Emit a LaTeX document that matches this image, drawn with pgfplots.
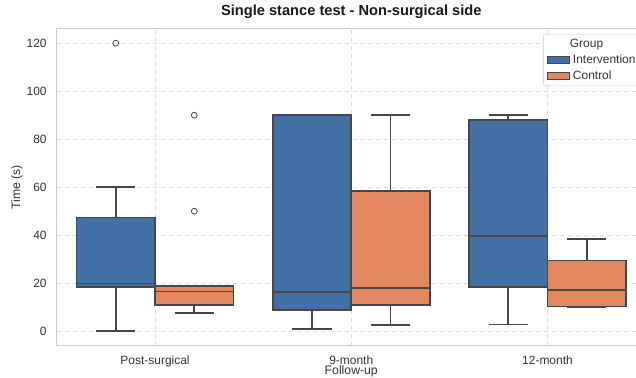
\documentclass[border=0pt]{standalone}
\usepackage{pgfplots}
\pgfplotsset{compat=1.18}
\usepgfplotslibrary{statistics}
\usepackage{fontspec}
\setmainfont{Liberation Sans}
\definecolor{iblue}{HTML}{4471A5}
\definecolor{corange}{HTML}{E2875F}
\definecolor{edge}{HTML}{474747}
\definecolor{spine}{HTML}{CCCCCC}
\definecolor{gridc}{HTML}{DDDDDD}
\definecolor{txt}{HTML}{333333}
\pgfplotsset{boxlegend/.style={legend image code/.code={\draw[##1, sharp corners] (0pt,-2.8pt) rectangle (17pt,2.8pt);}}}
\begin{document}
\begin{tikzpicture}
\begin{axis}[
  x=147.375pt, y=1.80225pt,
  xmin=-0.5, xmax=2.5, ymin=-6, ymax=126,
  xtick={0,1,2},
  xticklabels={Post-surgical,9-month,12-month},
  ytick={0,20,40,60,80,100,120},
  /pgf/number format/assume math mode=true,
  major tick length=0pt,
  ticklabel style={font=\fontsize{9}{10.5}\selectfont, text=txt},
  yticklabel style={xshift=-4.2pt},
  xticklabel style={yshift=-3.8pt},
  axis line style={spine, line width=0.8pt},
  grid=major,
  major grid style={gridc, dashed, line width=0.5pt},
  title={\bfseries Single stance test - Non-surgical side},
  title style={font=\fontsize{11}{13}\selectfont, anchor=base, yshift=4pt, text=black!90},
  xlabel={Follow-up},
  ylabel={Time (s)},
  xlabel style={font=\fontsize{9.2}{10.5}\selectfont, at={(axis description cs:0.5,-0.082)}, anchor=center, text=txt},
  ylabel style={font=\fontsize{9.2}{10.5}\selectfont, at={(axis description cs:-0.0679,0.5)}, anchor=center, text=txt},
  boxplot/draw direction=y,
  legend style={at={(axis cs:1.977,123.9)}, anchor=north west, draw=spine, rounded corners=2pt, fill=white, font=\fontsize{9}{10.5}\selectfont, text=txt, cells={anchor=west}, row sep=0pt, inner xsep=2.5pt, inner ysep=1.5pt},
]
\coordinate (bbsw) at (axis cs:-0.790,-19.27);
\coordinate (bbne) at (axis cs:2.451,138.0);

\addlegendimage{empty legend}
\addlegendentry{\hspace{-2.3pt}Group}
\addlegendimage{draw=edge, line width=0.8pt, fill=iblue, boxlegend}
\addlegendentry{Intervention}
\addlegendimage{draw=edge, line width=0.8pt, fill=corange, boxlegend}
\addlegendentry{Control}

% Post-surgical
\addplot[boxplot prepared={draw position=-0.2, lower whisker=0, lower quartile=18.5, median=19.85, upper quartile=47.4, upper whisker=60, box extend=0.4, whisker extend=0.2},
  fill=iblue, draw=edge, line width=1.2pt, mark=o, mark size=2.2pt, mark options={fill=white, draw=edge, line width=0.6pt}]
  table[row sep=\\, y index=0] {v\\ 120\\};
\addplot[boxplot prepared={draw position=0.2, lower whisker=7.5, lower quartile=11, median=16.5, upper quartile=18.9, upper whisker=18.9, box extend=0.4, whisker extend=0.2},
  fill=corange, draw=edge, line width=1.2pt, mark=o, mark size=2.2pt, mark options={fill=white, draw=edge, line width=0.6pt}]
  table[row sep=\\, y index=0] {v\\ 90\\ 50\\};
% 9-month
\addplot[boxplot prepared={draw position=0.8, lower whisker=1.0, lower quartile=8.7, median=16.2, upper quartile=90, upper whisker=90, box extend=0.4, whisker extend=0.2},
  fill=iblue, draw=edge, line width=1.2pt] coordinates {};
\addplot[boxplot prepared={draw position=1.2, lower whisker=2.5, lower quartile=11, median=17.9, upper quartile=58.3, upper whisker=90, box extend=0.4, whisker extend=0.2},
  fill=corange, draw=edge, line width=1.2pt] coordinates {};
% 12-month
\addplot[boxplot prepared={draw position=1.8, lower whisker=2.8, lower quartile=18.3, median=39.7, upper quartile=88, upper whisker=90, box extend=0.4, whisker extend=0.2},
  fill=iblue, draw=edge, line width=1.2pt] coordinates {};
\addplot[boxplot prepared={draw position=2.2, lower whisker=9.9, lower quartile=10.3, median=17.1, upper quartile=29.4, upper whisker=38.3, box extend=0.4, whisker extend=0.2},
  fill=corange, draw=edge, line width=1.2pt] coordinates {};
\end{axis}
\pgfresetboundingbox
\useasboundingbox (bbsw) rectangle (bbne);
\end{tikzpicture}
\end{document}
